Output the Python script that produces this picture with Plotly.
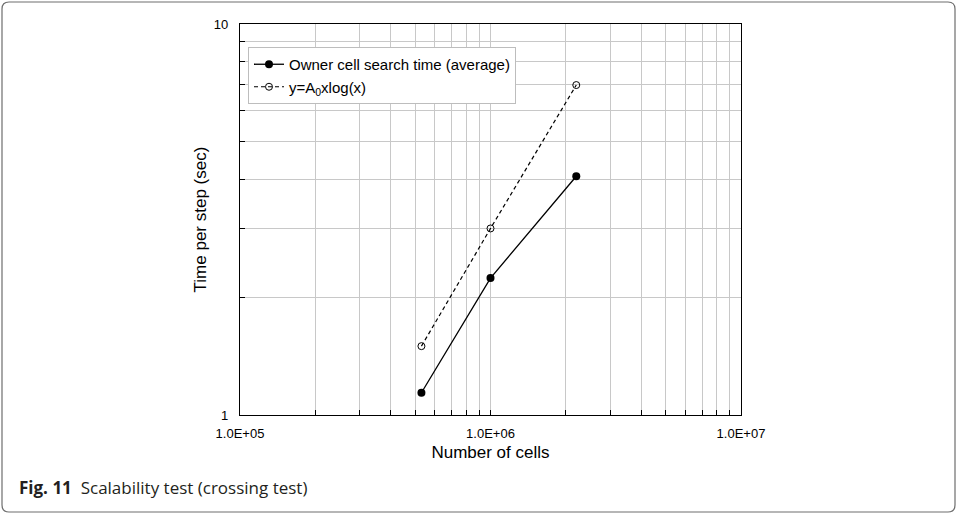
import plotly.graph_objects as go

cells = [5.3e5, 1.0e6, 2.2e6]
search_time = [1.14, 2.24, 4.08]
model_time = [1.50, 3.00, 6.98]

x_major = [1e5, 1e6, 1e7]
x_major_text = ["1.0E+05", "1.0E+06", "1.0E+07"]
x_minor = [k * 1e5 for k in range(2, 10)] + [k * 1e6 for k in range(2, 10)]
y_major = [1, 10]
y_major_text = ["1", "10"]
y_minor = list(range(2, 10))

L, R, T, B = 240, 741, 24, 415
W, H = 957, 514

fig = go.Figure()
fig.add_trace(go.Scatter(
    x=cells, y=search_time, mode="lines+markers",
    name="Owner cell search time (average)",
    line=dict(color="black", width=1.3),
    marker=dict(symbol="circle", size=8, color="black"),
))
fig.add_trace(go.Scatter(
    x=cells, y=model_time, mode="lines+markers",
    name="y=A<sub>0</sub>xlog(x)",
    line=dict(color="black", width=1.2, dash="4px,3px"),
    marker=dict(symbol="circle-open", size=7, color="black", line=dict(width=1)),
))

def px2paper_x(p):
    return (p - L) / (R - L)

def px2paper_y(p):
    return (B - p) / (B - T)

# rounded figure frame
x0, x1, y0, y1, r = 2, 955, 2, 512, 7
def P(x, y):
    return f"{px2paper_x(x):.5f},{px2paper_y(y):.5f}"
path = (f"M {P(x0 + r, y0)} L {P(x1 - r, y0)} Q {P(x1, y0)} {P(x1, y0 + r)} "
        f"L {P(x1, y1 - r)} Q {P(x1, y1)} {P(x1 - r, y1)} "
        f"L {P(x0 + r, y1)} Q {P(x0, y1)} {P(x0, y1 - r)} "
        f"L {P(x0, y0 + r)} Q {P(x0, y0)} {P(x0 + r, y0)} Z")
fig.add_shape(type="path", path=path, xref="paper", yref="paper",
              line=dict(color="#6e6e6e", width=1.2), layer="below")

fig.add_annotation(
    text="<b>Fig. 11</b>  Scalability test (crossing test)",
    xref="paper", yref="paper", x=px2paper_x(17), y=px2paper_y(487),
    xanchor="left", yanchor="middle", showarrow=False,
    font=dict(family="Open Sans", size=17, color="#231f20"),
)

axis_common = dict(
    type="log", showline=True, linecolor="black", linewidth=1.2, mirror=True,
    showgrid=True, gridcolor="#c8c8c8", gridwidth=1,
    ticks="inside", ticklen=5, tickcolor="black",
    tickfont=dict(family="Liberation Sans, Arial", size=13, color="black"),
    zeroline=False,
)

fig.update_layout(
    width=W, height=H,
    margin=dict(l=L, r=W - R, t=T, b=H - B),
    paper_bgcolor="white", plot_bgcolor="white",
    showlegend=True,
    legend=dict(
        x=px2paper_x(248), y=px2paper_y(47), xanchor="left", yanchor="top",
        bgcolor="white", bordercolor="#bdbdbd", borderwidth=1,
        font=dict(family="Liberation Sans, Arial", size=15, color="black"),
        itemwidth=30, tracegroupgap=2,
    ),
    xaxis=dict(
        **axis_common,
        range=[5, 7],
        tickmode="array", tickvals=x_major, ticktext=x_major_text,
        ticklabelstandoff=6,
        minor=dict(tickmode="array", tickvals=x_minor, showgrid=True,
                   gridcolor="#c8c8c8", ticks="inside", ticklen=5, tickcolor="black"),
        title=dict(text="Number of cells", standoff=6,
                   font=dict(family="Liberation Sans, Arial", size=17, color="black")),
    ),
    yaxis=dict(
        **axis_common,
        range=[0, 1],
        tickmode="array", tickvals=y_major, ticktext=y_major_text,
        ticklabelstandoff=8,
        minor=dict(tickmode="array", tickvals=y_minor, showgrid=True,
                   gridcolor="#c8c8c8", ticks="inside", ticklen=5, tickcolor="black"),
        title=dict(text="Time per step (sec)", standoff=2,
                   font=dict(family="Liberation Sans, Arial", size=17, color="black")),
    ),
)

fig.write_html("out.html")
